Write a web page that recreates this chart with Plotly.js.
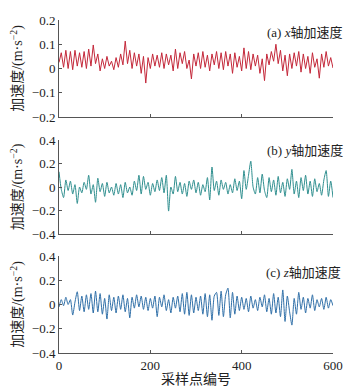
<!DOCTYPE html>
<html>
<head>
<meta charset="utf-8">
<script src="https://cdn.plot.ly/plotly-3.0.1.min.js"></script>
<style>html,body{margin:0;padding:0;background:#fff;}#chart{width:357px;height:390px;}</style>
</head>
<body>
<div id="chart"></div>
<script>
// sample index (every 5th sample point, 0..600)
const sampleIdx = Array.from({length: 121}, (_, i) => i * 5);

const xAccel = [
0.025,0.065,0.005,0.075,0.0,0.07,-0.005,0.075,0.01,0.065,
0.005,0.07,0.0,0.08,0.01,0.097,0.02,0.06,-0.01,0.04,
0.0,0.05,0.01,0.03,-0.005,0.045,0.005,0.06,0.015,0.113,
0.02,0.075,0.0,0.065,0.01,0.06,-0.02,0.05,-0.06,0.045,
0.0,0.06,0.01,0.055,0.005,0.065,0.0,0.06,0.015,0.055,
-0.01,0.08,0.0,0.065,0.02,0.07,0.0,0.035,-0.043,0.06,
0.01,0.065,0.0,0.07,0.005,0.055,-0.01,0.06,0.015,0.07,
0.0,0.065,-0.005,0.07,0.01,0.06,-0.02,0.065,0.005,0.05,
-0.01,0.085,0.0,0.07,-0.005,0.06,0.01,0.055,-0.02,0.04,
-0.05,0.06,0.015,0.07,0.03,0.1,0.02,0.075,-0.01,0.055,
-0.03,0.06,0.0,0.065,0.01,0.07,-0.015,0.06,0.0,0.05,
-0.02,0.065,0.005,0.04,-0.04,0.06,0.005,0.07,0.01,0.045,
0.002];

const yAccel = [
0.13,-0.02,-0.09,0.06,-0.03,0.05,-0.06,0.02,-0.14,0.0,
-0.05,0.04,-0.02,0.1,-0.06,0.02,-0.13,0.075,-0.04,0.03,
-0.08,0.04,-0.05,0.0,-0.07,0.03,-0.06,0.02,-0.09,0.04,
-0.05,0.0,-0.07,0.05,-0.03,0.1,-0.06,0.09,-0.02,0.04,
-0.07,0.03,-0.04,0.06,-0.03,0.08,-0.05,0.1,-0.205,0.0,
-0.06,0.09,-0.04,0.04,-0.06,0.03,-0.08,0.05,-0.02,0.06,
-0.05,0.04,-0.07,0.02,-0.04,0.08,-0.11,0.17,-0.03,0.05,
-0.07,0.06,-0.02,0.04,-0.06,0.02,-0.05,0.07,-0.03,0.05,
-0.1,0.14,-0.02,0.1,0.22,0.0,-0.06,0.08,-0.05,0.11,
-0.03,-0.09,0.08,-0.04,0.06,-0.07,0.09,-0.05,0.04,-0.08,
0.07,-0.02,0.15,-0.06,0.05,-0.09,0.08,-0.03,0.1,-0.06,
0.05,-0.08,0.07,-0.04,0.03,-0.07,0.06,0.14,-0.08,0.05,
-0.09];

const zAccel = [
-0.02,0.04,-0.01,0.06,0.0,0.04,-0.087,0.02,0.105,-0.05,
0.07,-0.06,0.08,-0.04,0.09,-0.07,0.11,-0.06,0.09,-0.08,
0.05,-0.12,0.08,-0.05,0.06,-0.07,0.07,-0.04,0.08,-0.06,
0.05,-0.11,0.06,-0.03,0.08,-0.02,0.07,-0.04,0.06,-0.05,
0.05,-0.03,0.07,-0.1,0.06,-0.02,0.08,-0.05,0.04,-0.07,
0.06,-0.03,0.07,-0.06,0.09,-0.08,0.1,-0.09,0.08,-0.07,
0.06,-0.05,0.07,-0.08,0.09,-0.1,0.08,-0.13,0.07,0.1,
-0.09,0.11,-0.1,0.08,0.135,-0.11,0.1,-0.08,0.07,-0.05,
0.06,-0.04,0.05,-0.06,0.07,-0.03,0.04,-0.05,0.06,-0.02,
0.08,-0.06,0.05,-0.08,0.09,-0.07,0.06,-0.1,0.12,-0.14,
0.07,-0.06,-0.17,0.05,-0.08,0.1,-0.04,0.06,-0.07,0.05,
-0.03,0.08,-0.05,0.04,-0.02,0.05,-0.04,0.06,-0.03,0.04,
-0.01];

const xTicks = [0, 200, 400, 600];
const yTicksA = [-0.2, -0.1, 0, 0.1, 0.2];
const yTicksBC = [-0.4, -0.2, 0, 0.2, 0.4];
const panelLabels = ['(a) <i>x</i>轴加速度', '(b) <i>y</i>轴加速度', '(c) <i>z</i>轴加速度'];
const yTitle = '加速度/(m·s<sup>−2</sup>)';
const xTitle = '采样点编号';

const serif = 'Liberation Serif, Times New Roman, Noto Sans CJK SC, serif';
const axisLine = '#555';

const traces = [
  {x: sampleIdx, y: xAccel, xaxis: 'x', yaxis: 'y', type: 'scatter', mode: 'lines',
   line: {color: '#c4283a', width: 1}},
  {x: sampleIdx, y: yAccel, xaxis: 'x2', yaxis: 'y2', type: 'scatter', mode: 'lines',
   line: {color: '#2f8f8f', width: 1, shape: 'spline', smoothing: 0.6}},
  {x: sampleIdx, y: zAccel, xaxis: 'x3', yaxis: 'y3', type: 'scatter', mode: 'lines',
   line: {color: '#2f6fa8', width: 1, shape: 'spline', smoothing: 0.6}}
];

function xa(anchor, labels) {
  const o = {anchor: anchor, domain: [0, 1], range: [0, 600], tickvals: xTicks,
    showticklabels: labels, ticks: 'inside', ticklen: 3,
    tickcolor: axisLine, showline: true, linecolor: axisLine, linewidth: 1, mirror: false,
    showgrid: false, zeroline: false, tickfont: {family: serif, size: 13, color: '#222'}};
  if (labels) o.title = {text: xTitle, font: {family: serif, size: 14, color: '#222'}, standoff: 2};
  return o;
}
function ya(anchor, dom, rng, ticks) {
  return {anchor: anchor, domain: dom, range: rng, tickvals: ticks,
    ticks: 'inside', ticklen: 3, tickcolor: axisLine, showline: true, linecolor: axisLine,
    linewidth: 1, showgrid: false, zeroline: false,
    tickfont: {family: serif, size: 13, color: '#222'},
    title: {text: yTitle, font: {family: serif, size: 14, color: '#222'}, standoff: 5}};
}

const layout = {
  width: 357, height: 390,
  margin: {l: 59, r: 24, t: 20, b: 37},
  paper_bgcolor: '#fff', plot_bgcolor: '#fff',
  showlegend: false,
  xaxis: xa('y', false),
  xaxis2: xa('y2', false),
  xaxis3: xa('y3', true),
  yaxis: ya('x', [0.7087, 1], [-0.2, 0.2], yTicksA),
  yaxis2: ya('x2', [0.3574, 0.6396], [-0.4, 0.4], yTicksBC),
  yaxis3: ya('x3', [0, 0.2913], [-0.4, 0.4], yTicksBC),
  annotations: [
    {text: panelLabels[0], xref: 'paper', yref: 'paper', x: 1.04, y: 0.961, xanchor: 'right', yanchor: 'middle', showarrow: false, font: {family: serif, size: 13, color: '#222'}},
    {text: panelLabels[1], xref: 'paper', yref: 'paper', x: 1.045, y: 0.6096, xanchor: 'right', yanchor: 'middle', showarrow: false, font: {family: serif, size: 13, color: '#222'}},
    {text: panelLabels[2], xref: 'paper', yref: 'paper', x: 1.038, y: 0.243, xanchor: 'right', yanchor: 'middle', showarrow: false, font: {family: serif, size: 13, color: '#222'}}
  ]
};

Plotly.newPlot('chart', traces, layout, {displayModeBar: false, staticPlot: true});
</script>
</body>
</html>
